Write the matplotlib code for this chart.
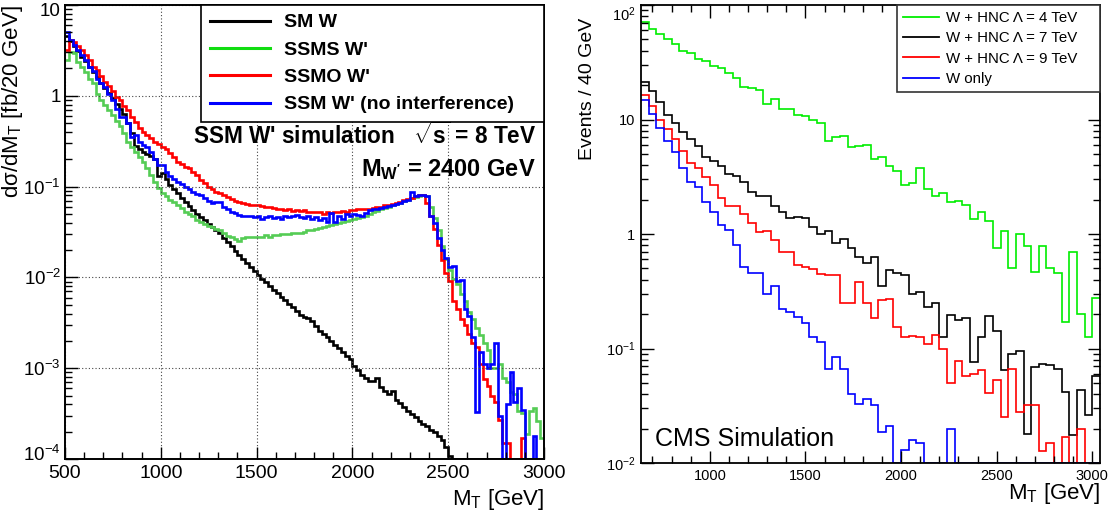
import numpy as np
import matplotlib
matplotlib.use('Agg')
import matplotlib.pyplot as plt
from matplotlib.lines import Line2D
from matplotlib.ticker import FixedLocator, NullFormatter, LogLocator
from matplotlib.transforms import ScaledTranslation

plt.rcParams['font.family'] = ['Liberation Sans', 'DejaVu Sans']
plt.rcParams['mathtext.fontset'] = 'custom'
plt.rcParams['mathtext.rm'] = 'Liberation Sans'
plt.rcParams['mathtext.it'] = 'Liberation Sans:italic'
plt.rcParams['mathtext.bf'] = 'Liberation Sans:bold'

# ---------------- Left panel data (20 GeV bins, 500-3000 GeV) ----------------
left_bin_start = 500
left_bin_width = 20
left_labels = ["SM W", "SSMS W'", "SSMO W'", "SSM W' (no interference)"]

sm_w = [4.6, 4.0, 3.5, 3.1, 2.7, 2.4, 2.1, 1.85, 1.6, 1.4,
        1.22, 1.08, 0.95, 0.82, 0.72, 0.63, 0.50, 0.39, 0.28, 0.26,
        0.24, 0.23, 0.22, 0.20, 0.13, 0.14, 0.12, 0.105, 0.095, 0.085,
        0.075, 0.068, 0.061, 0.055, 0.050, 0.046, 0.043, 0.039, 0.036, 0.033,
        0.031, 0.027, 0.0243, 0.0219, 0.0197, 0.0177, 0.016, 0.0144, 0.013, 0.0117,
        0.0105, 0.0096, 0.0088, 0.0080, 0.0073, 0.0067, 0.0061, 0.0056, 0.0051, 0.0047,
        0.0043, 0.0039, 0.0037, 0.0036, 0.0033, 0.0029, 0.0026, 0.0024, 0.0022, 0.0020,
        0.0018, 0.00165, 0.0015, 0.00137, 0.00125, 0.00105, 0.00095, 0.00085, 0.00078, 0.00072,
        0.00072, 0.00078, 0.00062, 0.00056, 0.00052, 0.00056, 0.00045, 0.00041, 0.00037, 0.00034,
        0.00031, 0.00029, 0.00026, 0.00024, 0.00023, 0.00021, 0.00020, 0.00018, 0.00016, 0.000135,
        0.000108, 0, 0, 0, 0, 0, 0, 0, 0, 0,
        0, 0, 0, 0, 0, 0, 0, 0, 0, 0,
        0, 0, 0, 0, 0]

ssms = [2.5, 3.06, 2.94, 2.38, 2.06, 1.85, 1.55, 1.37, 1.06, 0.91,
        0.79, 0.70, 0.62, 0.53, 0.46, 0.39, 0.31, 0.275, 0.243, 0.21,
        0.185, 0.159, 0.134, 0.113, 0.096, 0.086, 0.078, 0.072, 0.068, 0.063,
        0.058, 0.053, 0.050, 0.047, 0.043, 0.041, 0.039, 0.037, 0.0355, 0.034,
        0.033, 0.0306, 0.0286, 0.0276, 0.0267, 0.0254, 0.027, 0.0276, 0.0276, 0.028,
        0.028, 0.028, 0.029, 0.028, 0.029, 0.029, 0.030, 0.030, 0.030, 0.031,
        0.031, 0.031, 0.032, 0.033, 0.033, 0.034, 0.035, 0.036, 0.037, 0.038,
        0.039, 0.040, 0.041, 0.042, 0.043, 0.044, 0.045, 0.046, 0.048, 0.050,
        0.052, 0.054, 0.056, 0.058, 0.060, 0.062, 0.064, 0.066, 0.069, 0.071,
        0.074, 0.076, 0.078, 0.080, 0.079, 0.060, 0.045, 0.033, 0.022, 0.016,
        0.012, 0.0095, 0.0085, 0.0065, 0.0055, 0.0042, 0.0035, 0.0028, 0.0023, 0.0019,
        0.0016, 0.0010, 0.0010, 0.0011, 0.00078, 0.0007, 0.00055, 0.00052, 0.00034, 0.00032,
        0.00019, 0.00034, 0.00036, 0.00026, 0.00017]

ssmo = [3.2, 4.1, 3.9, 3.5, 3.2, 2.8, 2.5, 2.1, 1.9, 1.65,
        1.43, 1.28, 1.14, 0.98, 0.90, 0.77, 0.69, 0.59, 0.51, 0.44,
        0.40, 0.37, 0.34, 0.31, 0.295, 0.275, 0.257, 0.237, 0.214, 0.188,
        0.178, 0.166, 0.159, 0.146, 0.135, 0.118, 0.109, 0.100, 0.094, 0.088,
        0.085, 0.080, 0.077, 0.073, 0.070, 0.068, 0.066, 0.064, 0.063, 0.062,
        0.063, 0.061, 0.060, 0.059, 0.058, 0.056, 0.056, 0.055, 0.056, 0.054,
        0.055, 0.054, 0.055, 0.053, 0.053, 0.052, 0.053, 0.050, 0.053, 0.051,
        0.053, 0.052, 0.054, 0.053, 0.055, 0.055, 0.056, 0.056, 0.057, 0.057,
        0.058, 0.059, 0.060, 0.062, 0.063, 0.064, 0.066, 0.068, 0.071, 0.073,
        0.075, 0.078, 0.080, 0.080, 0.066, 0.047, 0.034, 0.023, 0.0157, 0.0112,
        0.0091, 0.0055, 0.0045, 0.0035, 0.0030, 0.0024, 0.0019, 0.0017, 0.0011, 0.00076,
        0.00064, 0.0005, 0.00042, 0.00027, 0.00015, 0.00015, 0, 0, 0, 0.00017,
        0, 0, 0, 0, 0]

ssm_noint = [5.1, 4.1, 3.6, 3.2, 2.8, 2.5, 2.1, 1.88, 1.55, 1.37,
             1.24, 1.05, 0.91, 0.72, 0.59, 0.58, 0.50, 0.35, 0.37, 0.31,
             0.285, 0.275, 0.24, 0.20, 0.175, 0.172, 0.145, 0.13, 0.12, 0.112,
             0.107, 0.100, 0.094, 0.088, 0.083, 0.080, 0.074, 0.070, 0.066, 0.068,
             0.068, 0.060, 0.056, 0.053, 0.051, 0.049, 0.048, 0.047, 0.047, 0.046,
             0.047, 0.044, 0.046, 0.047, 0.045, 0.046, 0.044, 0.047, 0.046, 0.048,
             0.049, 0.046, 0.045, 0.047, 0.044, 0.046, 0.043, 0.045, 0.041, 0.051,
             0.041, 0.048, 0.044, 0.050, 0.048, 0.050, 0.049, 0.047, 0.051, 0.055,
             0.056, 0.057, 0.058, 0.060, 0.061, 0.063, 0.065, 0.066, 0.069, 0.072,
             0.088, 0.078, 0.081, 0.081, 0.078, 0.048, 0.040, 0.027, 0.020, 0.0165,
             0.013, 0.0135, 0.0092, 0.0093, 0.0045, 0.0038, 0.0022, 0.00033, 0.0015, 0.0011,
             0.0010, 0.0011, 0.0019, 0.0003, 0, 0.0004, 0.0009, 0.00042, 0.0006, 0.00035,
             0, 0, 0.00018, 0, 0]

# ---------------- Right panel data (40 GeV bins, 640-3040 GeV) ----------------
right_bin_start = 640
right_bin_width = 40
right_labels = ["W + HNC \u039b = 4 TeV", "W + HNC \u039b = 7 TeV",
                "W + HNC \u039b = 9 TeV", "W only"]

hnc4 = [71.5, 61.4, 55.5, 50.1, 45.4, 39.7, 38.3, 33.6, 32.4, 29.3,
        28.0, 25.3, 22.9, 19.1, 18.7, 18.1, 13.6, 15.1, 12.3, 12.3,
        11.0, 10.8, 9.9, 9.3, 6.5, 7.0, 7.2, 5.8, 5.9, 6.0,
        4.5, 4.7, 3.9, 3.55, 2.68, 2.8, 3.8, 2.47, 2.15, 2.3,
        1.9, 1.95, 1.80, 1.36, 1.55, 1.30, 0.75, 1.06, 0.50, 1.0,
        0.79, 0.47, 0.78, 0.50, 0.46, 0.17, 0.70, 0.20, 0.126, 0.275]

hnc7 = [21.1, 17.9, 14.3, 10.9, 9.4, 7.7, 6.7, 5.9, 4.7, 4.3,
        3.9, 3.35, 3.24, 2.87, 2.31, 2.16, 2.15, 1.76, 1.55, 1.37,
        1.42, 1.37, 1.16, 1.01, 1.06, 0.83, 0.90, 0.75, 0.63, 0.56,
        0.63, 0.35, 0.48, 0.46, 0.44, 0.30, 0.31, 0.23, 0.25, 0.126,
        0.196, 0.178, 0.184, 0.076, 0.127, 0.192, 0.143, 0.065, 0.09, 0.096,
        0.018, 0.069, 0.073, 0.072, 0.066, 0.042, 0.0176, 0.043, 0.026, 0.058]

hnc9 = [16.4, 13.1, 10.0, 8.2, 6.7, 5.3, 4.2, 3.8, 3.17, 2.68,
        2.05, 1.77, 1.76, 1.51, 1.26, 1.05, 1.07, 0.89, 0.69, 0.69,
        0.54, 0.51, 0.49, 0.45, 0.44, 0.44, 0.25, 0.25, 0.38, 0.248,
        0.184, 0.265, 0.27, 0.155, 0.127, 0.129, 0.125, 0.109, 0.131, 0.10,
        0.05, 0.078, 0.058, 0.06, 0.065, 0.041, 0.053, 0.0254, 0.066, 0.028,
        0.032, 0.032, 0.0128, 0.015, 0, 0.0168, 0, 0.020, 0, 0]

w_only = [14.8, 11.1, 8.4, 6.5, 5.2, 3.8, 2.86, 2.56, 1.92, 1.55,
          1.2, 1.08, 0.80, 0.52, 0.46, 0.46, 0.30, 0.35, 0.22, 0.21,
          0.19, 0.166, 0.125, 0.113, 0.066, 0.085, 0.066, 0.040, 0.033, 0.036,
          0.032, 0.0186, 0.021, 0, 0.013, 0.016, 0.015, 0, 0, 0,
          0.020, 0, 0, 0, 0, 0, 0, 0, 0, 0,
          0, 0, 0, 0, 0, 0, 0, 0, 0, 0]

# ---------------- Figure ----------------
W, H = 1112, 518
fig = plt.figure(figsize=(W / 100, H / 100), dpi=100)
axL = fig.add_axes([65 / W, 59 / H, 479 / W, 454 / H])
axR = fig.add_axes([641 / W, 55 / H, 459 / W, 458 / H])


def shift_down(label, px):
    label.set_transform(label.get_transform() +
                        ScaledTranslation(0, -px / 72.0, fig.dpi_scale_trans))


# ----- Left panel -----
yminL, ymaxL = 1e-4, 10
edgesL = left_bin_start + left_bin_width * np.arange(len(sm_w) + 1)
left_series = [sm_w, ssms, ssmo, ssm_noint]
left_colors = ['black', '#55cc55', '#ff0000', '#0000ff']
for vals, col in zip(left_series, left_colors):
    v = np.clip(np.asarray(vals, float), yminL, None)
    axL.stairs(v, edgesL, baseline=None, color=col, lw=1.9)

axL.set_yscale('log')
axL.set_xlim(500, 3000)
axL.set_ylim(yminL, ymaxL)
axL.xaxis.set_major_locator(FixedLocator([500, 1000, 1500, 2000, 2500, 3000]))
axL.xaxis.set_minor_locator(FixedLocator(np.arange(600, 3000, 100)))
axL.set_xticklabels(['500', '1000', '1500', '2000', '2500', '3000'])
ytL = [1e-4, 1e-3, 1e-2, 1e-1, 1, 10]
axL.yaxis.set_major_locator(FixedLocator(ytL))
axL.set_yticklabels([r'$10^{-4}$', r'$10^{-3}$', r'$10^{-2}$', r'$10^{-1}$', '1', '10'])
axL.yaxis.set_minor_locator(LogLocator(base=10, subs=np.arange(2, 10)))
axL.yaxis.set_minor_formatter(NullFormatter())
axL.tick_params(which='both', direction='in', top=False, right=False, width=1.0,
                labelsize=14, pad=4)
axL.tick_params(axis='y', which='major', labelsize=13.5, pad=3)
axL.tick_params(which='major', length=9)
axL.tick_params(which='minor', length=5)
axL.grid(True, which='major', linestyle=(0, (1, 2)), color='#444444', lw=0.8)
for s in axL.spines.values():
    s.set_linewidth(1.4)
shift_down(axL.get_yticklabels()[-1], 3)
shift_down(axL.get_yticklabels()[0], -4)

leg_col_L = ['black', '#11dd11', '#ff0000', '#0000ff']
handlesL = [Line2D([], [], color=c, lw=2.2) for c in leg_col_L]
legL = axL.legend(handlesL, left_labels, loc='upper left',
                  bbox_to_anchor=((201 - 65) / 479, 0.0, (544 - 201) / 479, 1.0),
                  mode='expand', borderaxespad=0, fancybox=False, edgecolor='black',
                  framealpha=1, prop={'weight': 'bold', 'size': 14}, handlelength=3.1,
                  handletextpad=0.72, labelspacing=0.5, borderpad=0.45)
legL.get_frame().set_linewidth(1.2)

fig.text(536 / W, 1 - 136 / H, r"SSM W' simulation   $\sqrt{\mathbf{s}}$ = 8 TeV",
         ha='right', va='center', weight='bold', size=16.3)
fig.text(536 / W, 1 - 170 / H, r"M$_{\mathbf{W'}}$ = 2400 GeV",
         ha='right', va='center', weight='bold', size=17)
fig.text(13 / W, 1 - 5 / H, "d\u03c3/dM$_{\\rm T}$ [fb/20 GeV]",
         rotation=90, ha='center', va='top', size=16)
fig.text(544 / W, 1 - 500 / H, r"M$_{\rm T}$ [GeV]", ha='right', va='center', size=16)

# ----- Right panel -----
yminR, ymaxR = 1e-2, 1e2
edgesR = right_bin_start + right_bin_width * np.arange(len(hnc4) + 1)
right_series = [hnc4, hnc7, hnc9, w_only]
right_colors = ['#00ee00', 'black', '#ff0000', '#0000ff']
for vals, col in zip(right_series, right_colors):
    v = np.clip(np.asarray(vals, float), yminR, None)
    axR.stairs(v, edgesR, baseline=None, color=col, lw=1.2)

axR.set_yscale('log')
axR.set_xlim(edgesR[0], edgesR[-1])
axR.set_ylim(yminR, ymaxR)
axR.xaxis.set_major_locator(FixedLocator([1000, 1500, 2000, 2500, 3000]))
axR.set_xticklabels(['1000', '1500', '2000', '2500', '3000'])
axR.xaxis.set_minor_locator(FixedLocator(np.arange(700, 3040, 100)))
axR.yaxis.set_major_locator(FixedLocator([1e-2, 1e-1, 1, 10, 100]))
axR.set_yticklabels([r'$10^{-2}$', r'$10^{-1}$', '1', '10', r'$10^{2}$'])
axR.yaxis.set_minor_locator(LogLocator(base=10, subs=np.arange(2, 10)))
axR.yaxis.set_minor_formatter(NullFormatter())
axR.tick_params(which='both', direction='in', top=True, right=True, width=1.0,
                labelsize=10.5, pad=4)
axR.tick_params(which='major', length=9)
axR.tick_params(which='minor', length=5)
for s in axR.spines.values():
    s.set_linewidth(1.3)
shift_down(axR.get_yticklabels()[-1], 6)

handlesR = [Line2D([], [], color=c, lw=1.3) for c in right_colors]
legR = axR.legend(handlesR, right_labels, loc='upper left',
                  bbox_to_anchor=((897 - 641) / 459, 0.0, (1100 - 897) / 459, 1.0),
                  mode='expand', borderaxespad=0, fancybox=False, edgecolor='#333333',
                  framealpha=1, prop={'size': 10.8}, handlelength=2.4, handletextpad=0.47,
                  labelspacing=0.42, borderpad=0.4)
legR.get_frame().set_linewidth(1.2)

fig.text(655 / W, 1 - 439 / H, 'CMS Simulation', ha='left', va='center', size=18)
fig.text(588 / W, 1 - 18 / H, 'Events / 40 GeV', rotation=90, ha='center', va='top', size=14)
fig.text(1100 / W, 1 - 494 / H, r"M$_{\rm T}$ [GeV]", ha='right', va='center', size=16)

fig.savefig('out.png', dpi=100)
